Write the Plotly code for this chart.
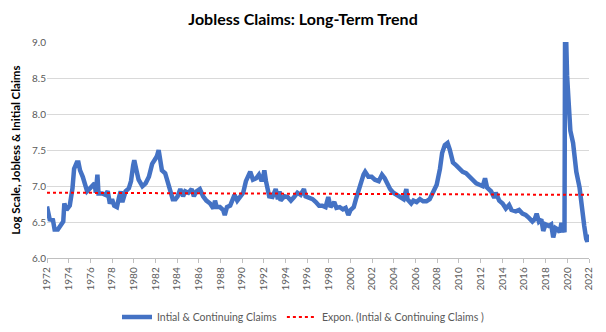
import plotly.graph_objects as go

years = [1972.0, 1972.1, 1972.25, 1972.55, 1972.7, 1973.0, 1973.3, 1973.5, 1973.6, 1973.8,
         1974.1, 1974.2, 1974.35, 1974.5, 1974.75, 1974.9, 1975.05, 1975.3, 1975.5, 1975.7,
         1975.9, 1976.2, 1976.4, 1976.5, 1976.65, 1976.75, 1977.1, 1977.4, 1977.6, 1977.8,
         1978.0, 1978.2, 1978.45, 1978.65, 1978.8, 1978.95, 1979.25, 1979.55, 1979.75, 1979.95,
         1980.05, 1980.25, 1980.45, 1980.8, 1981.1, 1981.4, 1981.7, 1982.0, 1982.15, 1982.3,
         1982.45, 1982.6, 1982.9, 1983.15, 1983.4, 1983.6, 1983.85, 1984.05, 1984.3, 1984.55,
         1984.75, 1985.05, 1985.35, 1985.55, 1985.8, 1986.1, 1986.4, 1986.7, 1987.05, 1987.35,
         1987.5, 1987.65, 1987.95, 1988.25, 1988.4, 1988.6, 1988.9, 1989.2, 1989.3, 1989.55,
         1989.85, 1990.1, 1990.35, 1990.55, 1990.75, 1991.0, 1991.3, 1991.55, 1991.75, 1991.9,
         1992.05, 1992.2, 1992.35, 1992.5, 1992.8, 1993.1, 1993.3, 1993.45, 1993.55, 1993.9,
         1994.2, 1994.5, 1994.8, 1995.1, 1995.4, 1995.7, 1995.85, 1996.2, 1996.5, 1996.8,
         1997.1, 1997.4, 1997.7, 1997.95, 1998.15, 1998.5, 1998.7, 1999.0, 1999.3, 1999.55,
         1999.8, 2000.0, 2000.3, 2000.5, 2000.75, 2001.0, 2001.2, 2001.35, 2001.65, 2001.95,
         2002.25, 2002.6, 2002.9, 2003.15, 2003.35, 2003.65, 2003.95, 2004.25, 2004.55, 2004.9,
         2005.15, 2005.25, 2005.6, 2005.8, 2006.1, 2006.4, 2006.7, 2007.0, 2007.3, 2007.65,
         2007.95, 2008.25, 2008.45, 2008.7, 2008.95, 2009.15, 2009.45, 2009.75, 2010.05, 2010.35,
         2010.65, 2010.95, 2011.3, 2011.6, 2011.9, 2012.2, 2012.41, 2012.6, 2012.96, 2013.26,
         2013.4, 2013.72, 2014.03, 2014.33, 2014.63, 2014.85, 2015.25, 2015.55, 2015.86, 2016.16,
         2016.46, 2016.78, 2016.99, 2017.17, 2017.38, 2017.6, 2017.78, 2017.99, 2018.29, 2018.51,
         2018.7, 2018.91, 2019.12, 2019.3, 2019.46, 2019.67, 2019.74, 2019.8, 2019.88, 2019.98,
         2020.12, 2020.28, 2020.53, 2020.83, 2021.13, 2021.35, 2021.56, 2021.74, 2021.85, 2021.95]

claims = [6.72, 6.60, 6.54, 6.53, 6.40, 6.40, 6.47, 6.51, 6.76, 6.67,
          6.73, 6.80, 6.97, 7.24, 7.33, 7.33, 7.22, 7.13, 7.00, 6.93,
          6.96, 7.00, 7.04, 6.91, 7.16, 6.90, 6.90, 6.88, 6.93, 6.76,
          6.82, 6.73, 6.71, 6.85, 6.93, 6.78, 6.93, 6.97, 7.07, 7.29,
          7.36, 7.22, 7.09, 7.00, 7.04, 7.13, 7.31, 7.38, 7.42, 7.50,
          7.33, 7.22, 7.18, 7.04, 6.93, 6.82, 6.82, 6.86, 6.96, 6.86,
          6.93, 6.91, 6.96, 6.86, 6.93, 6.96, 6.86, 6.80, 6.76, 6.69,
          6.80, 6.71, 6.71, 6.67, 6.60, 6.71, 6.73, 6.82, 6.88, 6.80,
          6.85, 6.91, 7.07, 7.13, 7.20, 7.09, 7.11, 7.16, 7.09, 7.09,
          7.22, 7.07, 6.96, 6.86, 6.85, 6.96, 6.82, 6.93, 6.80, 6.86,
          6.85, 6.80, 6.85, 6.91, 6.88, 6.96, 6.86, 6.84, 6.82, 6.78,
          6.73, 6.73, 6.71, 6.85, 6.71, 6.78, 6.70, 6.71, 6.68, 6.70,
          6.60, 6.67, 6.71, 6.82, 6.96, 7.04, 7.16, 7.20, 7.13, 7.13,
          7.09, 7.07, 7.16, 7.11, 7.04, 6.96, 6.91, 6.88, 6.86, 6.82,
          6.96, 6.82, 6.76, 6.80, 6.78, 6.82, 6.79, 6.79, 6.82, 6.93,
          7.02, 7.24, 7.46, 7.57, 7.60, 7.51, 7.33, 7.29, 7.24, 7.20,
          7.18, 7.13, 7.09, 7.04, 7.02, 7.00, 7.11, 6.98, 6.93, 6.84,
          6.91, 6.80, 6.76, 6.69, 6.74, 6.67, 6.65, 6.67, 6.62, 6.60,
          6.56, 6.51, 6.54, 6.62, 6.51, 6.54, 6.38, 6.47, 6.45, 6.47,
          6.29, 6.42, 6.40, 6.36, 6.49, 6.36, 6.36, 9.60, 9.05, 8.53,
          8.17, 7.77, 7.60, 7.20, 6.98, 6.67, 6.45, 6.27, 6.23, 6.33]

trend_years = [1972.0, 2022.0]
trend_values = [6.91, 6.88]

x_ticks = list(range(1972, 2023, 2))
y_ticks = [6.0, 6.5, 7.0, 7.5, 8.0, 8.5, 9.0]

fig = go.Figure()
fig.add_trace(go.Scatter(
    x=years, y=claims, mode="lines",
    name="Intial & Continuing Claims",
    line=dict(color="#4472C4", width=4.5),
))
fig.add_trace(go.Scatter(
    x=trend_years, y=trend_values, mode="lines",
    name="Expon. (Intial & Continuing Claims )",
    line=dict(color="#FF0000", width=2, dash="dot"),
))

fig.update_layout(
    width=606, height=332,
    margin=dict(l=47, r=12, t=42, b=63),
    paper_bgcolor="white", plot_bgcolor="white",
    font=dict(family="Lato", size=10, color="#595959"),
    title=dict(text="<b>Jobless Claims: Long-Term Trend</b>",
               x=0.5, xref="container", xanchor="center",
               y=1 - 19 / 332, yref="container", yanchor="middle",
               font=dict(family="Lato", size=16, color="#000000")),
    showlegend=True,
    legend=dict(orientation="h", x=0.5, xref="container", xanchor="center",
                y=1 - 317 / 332, yref="container", yanchor="middle",
                font=dict(size=10.5, color="#595959"), bgcolor="rgba(0,0,0,0)"),
)
fig.update_xaxes(
    range=[1972, 2022], tickvals=x_ticks, ticktext=[str(t) for t in x_ticks],
    tickangle=-90, showgrid=False, zeroline=False,
    showline=True, linecolor="#bfbfbf", linewidth=1,
    ticks="outside", ticklen=4, tickcolor="#bfbfbf",
    tickfont=dict(size=10, color="#595959"),
)
fig.update_yaxes(
    range=[6, 9], tickvals=y_ticks, tickformat=".1f",
    showgrid=True, gridcolor="#d9d9d9", gridwidth=1, zeroline=False,
    showline=False, ticks="",
    tickfont=dict(size=10, color="#595959"),
    title=dict(text="<b>Log Scale, Jobless & Initial Claims</b>",
               font=dict(size=11.5, color="#000000"), standoff=8),
)

fig.write_html("out.html")
